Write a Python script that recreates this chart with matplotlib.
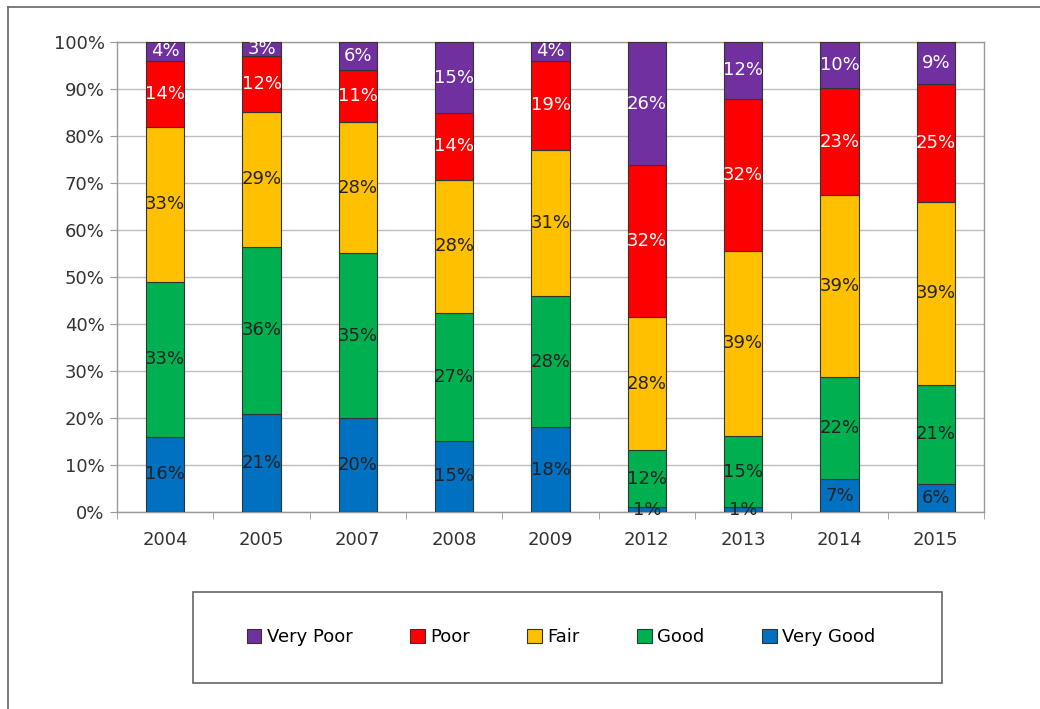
import matplotlib.pyplot as plt
import numpy as np
from matplotlib.patches import Rectangle
from matplotlib.lines import Line2D

years = ["2004", "2005", "2007", "2008", "2009", "2012", "2013", "2014", "2015"]
very_good = [16, 21, 20, 15, 18, 1, 1, 7, 6]
good = [33, 36, 35, 27, 28, 12, 15, 22, 21]
fair = [33, 29, 28, 28, 31, 28, 39, 39, 39]
poor = [14, 12, 11, 14, 19, 32, 32, 23, 25]
very_poor = [4, 3, 6, 15, 4, 26, 12, 10, 9]

series = [
    ("Very Good", very_good, "#0070C0", "#222222"),
    ("Good", good, "#00B050", "#222222"),
    ("Fair", fair, "#FFC000", "#222222"),
    ("Poor", poor, "#FF0000", "white"),
    ("Very Poor", very_poor, "#7030A0", "white"),
]

vals = np.array([s[1] for s in series], dtype=float)
totals = vals.sum(axis=0)
shares = vals / totals * 100  # 100% stacked

fig = plt.figure(figsize=(10.4, 7.09), dpi=100)
ax = fig.add_axes([0.1125, 0.2779, 0.8337, 0.663])

x = np.arange(len(years))
bottom = np.zeros(len(years))
handles = {}
for (name, raw, color, txtcol), h in zip(series, shares):
    bars = ax.bar(x, h, 0.4, bottom=bottom, color=color, edgecolor="#333333",
                  linewidth=0.8, label=name, zorder=3)
    handles[name] = bars
    for xi, b, hh, r in zip(x, bottom, h, raw):
        ax.text(xi, b + hh / 2, f"{r}%", ha="center", va="center",
                fontsize=13, color=txtcol, zorder=4)
    bottom += h

ax.set_xlim(-0.5, len(years) - 0.5)
ax.set_ylim(0, 100)
ax.set_yticks(np.arange(0, 101, 10))
ax.set_yticklabels([f"{v}%" for v in range(0, 101, 10)], fontsize=13, color="#333333")
ax.set_xticks(x)
ax.set_xticklabels(years, fontsize=13, color="#333333")
ax.set_xticks(np.arange(-0.5, len(years), 1), minor=True)
ax.tick_params(axis="x", which="major", length=0, pad=14)
ax.tick_params(axis="x", which="minor", length=5, color="#999999", direction="out")
ax.tick_params(axis="y", length=5, color="#999999", pad=4)
ax.grid(axis="y", color="#BFBFBF", linewidth=1, zorder=0)
for sp in ax.spines.values():
    sp.set_color("#999999")
    sp.set_linewidth(1)

# legend box
fig.patches.append(Rectangle((0.1856, 0.0367), 0.720, 0.128, transform=fig.transFigure,
                             fill=False, edgecolor="#666666", linewidth=1.2))
order = ["Very Poor", "Poor", "Fair", "Good", "Very Good"]
fig.legend([handles[n] for n in order], order, loc="center", bbox_to_anchor=(0.5395, 0.101),
           ncol=5, frameon=False, fontsize=13, handlelength=0.8, handleheight=0.8,
           handletextpad=0.3, columnspacing=3.2)

# outer frame (top and left edges)
fig.add_artist(Line2D([0.0075, 0.0075], [0, 0.99], transform=fig.transFigure, color="#666666", linewidth=1.2))
fig.add_artist(Line2D([0.0075, 1.0], [0.99, 0.99], transform=fig.transFigure, color="#666666", linewidth=1.2))

fig.savefig("out.png", dpi=100)
